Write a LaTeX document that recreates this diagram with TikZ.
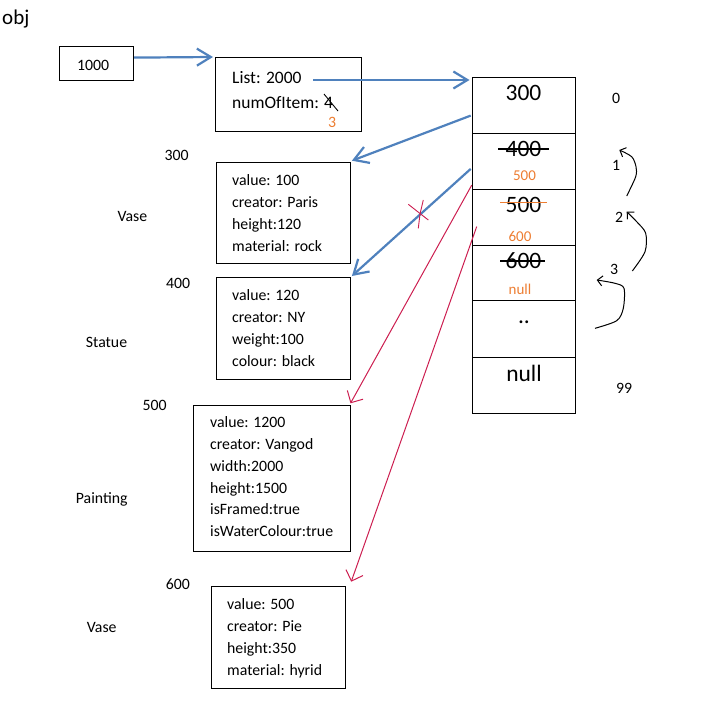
\documentclass[tikz,border=0pt]{standalone}
\usepackage{fontspec}
\setmainfont{Carlito}
\usetikzlibrary{arrows.meta}
\definecolor{linkblue}{RGB}{79,129,189}
\definecolor{inkred}{RGB}{204,30,80}
\definecolor{updorange}{RGB}{237,125,49}

\begin{document}
\begin{tikzpicture}[x=1pt,y=-1pt,
  objbox/.style={draw, line width=1.2pt, inner sep=0pt, anchor=north west},
  txt/.style={inner sep=0pt, anchor=base west, font=\fontsize{15.8}{18}\selectfont},
  listtxt/.style={txt, font=\fontsize{17.5}{21}\selectfont},
  big/.style={inner sep=0pt, anchor=base, font=\fontsize{23.5}{28}\selectfont},
  upd/.style={inner sep=0pt, anchor=base, text=updorange, font=\fontsize{15}{18}\selectfont},
  ref/.style={line width=2.2pt, draw=linkblue, -{Straight Barb[length=14pt,width=17pt]}},
  redref/.style={line width=1pt, draw=inkred, -{Straight Barb[length=9pt,width=18pt]}},
  strike/.style={line width=1.3pt},
  hand/.style={line width=1pt, -{Straight Barb[length=5pt,width=10pt]}},
]
\useasboundingbox (0,0) rectangle (702,701);

% title
\node[txt, font=\fontsize{21}{25}\selectfont] (title) at (2,25) {obj};

% reference variable and list object
\node[objbox, minimum width=74pt, minimum height=34pt] (ptr) at (59,46) {};
\node[txt] (ptrval) at ([shift={(18,24.7)}]ptr.north west) {1000};

\node[objbox, minimum width=146pt, minimum height=74pt] (listobj) at (215,57) {};
\node[listtxt] (list1) at ([shift={(17,26.3)}]listobj.north west) {List: 2000};
\node[listtxt] (list2) at ([shift={(17,51)}]listobj.north west) {numOfItem: 4};
\node[txt, text=updorange] (newcount) at (328,127.3) {3};
\draw[line width=0.9pt] (324,94) -- (338,111);

% array of references
\foreach \ytop/\h [count=\i from 0] in {77/56,133/56,189/56,245/55,300/57,357/56}
  \node[objbox, minimum width=103pt, minimum height=\h pt] (cell\i) at (472,\ytop) {};

\node[big] (v0) at (523.5,100.7) {300};
\node[big] (v1) at (523.5,156.7) {400};
\node[upd] (u1) at (524.5,180) {500};
\node[big] (v2) at (523.5,212.7) {500};
\node[upd] (u2) at (520,241.7) {600};
\node[big] (v3) at (523.5,268) {600};
\node[upd] (u3) at (520,294) {null};
\node[big] (v4) at (524,323) {..};
\node[big] (v5) at (524,381.7) {null};

\draw[strike] (498,149) -- (549,149);
\draw[strike, updorange] (500,202.7) -- (547,202.7);
\draw[strike] (500,261) -- (545,261);

% indices
\node[txt] (i0) at (612,103.3) {0};
\node[txt] (i1) at (612,170) {1};
\node[txt] (i2) at (615,222.3) {2};
\node[txt] (i3) at (610,274) {3};
\node[txt] (i99) at (616,393.3) {99};

% shifting arrows
\draw[hand] plot[smooth] coordinates {(626.7,196) (635.7,176.7) (636,166.7) (631.7,156.7) (619.3,150)};
\draw[hand] plot[smooth] coordinates {(632.3,271) (645,251.7) (645.7,233.3) (636.7,221.7) (626.7,211.7)};
\draw[hand] plot[smooth] coordinates {(595,328.3) (616.7,320.7) (623.3,308.3) (624,288.3) (615,283.3) (596.7,280)};

% left labels
\node[txt] (a300) at (164.3,160.7) {300};
\node[txt] (k1) at (117.3,221) {Vase};
\node[txt] (a400) at (166,288.3) {400};
\node[txt] (k2) at (85.7,347.7) {Statue};
\node[txt] (a500) at (142.3,410.7) {500};
\node[txt] (k3) at (75.7,503.3) {Painting};
\node[txt] (a600) at (165.7,589) {600};
\node[txt] (k4) at (86.7,632.7) {Vase};

% item objects
\node[objbox, minimum width=134pt, minimum height=101pt] (vase) at (216,162) {};
\foreach \txt [count=\i] in {value: 100,creator: Paris,height:120,material: rock}
  \node[txt] (vase-\i) at ([shift={(16,{23+22*(\i-1)})}]vase.north west) {\txt};

\node[objbox, minimum width=134pt, minimum height=102pt] (statue) at (216,277) {};
\foreach \txt [count=\i] in {value: 120,creator: NY,weight:100,colour: black}
  \node[txt] (statue-\i) at ([shift={(16,{23.7+22*(\i-1)})}]statue.north west) {\txt};

\node[objbox, minimum width=157pt, minimum height=146pt] (painting) at (193,405) {};
\foreach \txt [count=\i] in {value: 1200,creator: Vangod,width:2000,height:1500,isFramed:true,isWaterColour:true}
  \node[txt] (painting-\i) at ([shift={(17,{22.7+21.8*(\i-1)})}]painting.north west) {\txt};

\node[objbox, minimum width=134pt, minimum height=102pt] (vase2) at (211,586) {};
\foreach \txt [count=\i] in {value: 500,creator: Pie,height:350,material: hyrid}
  \node[txt] (vase2-\i) at ([shift={(16,{23+22*(\i-1)})}]vase2.north west) {\txt};

% references
\draw[ref] ([yshift=6pt]ptr.east) -- ([xshift=-2pt]listobj.north west);
\draw[ref] ([xshift=11.5pt,yshift=3.3pt]list1.base east) -- ([xshift=-2.5pt,yshift=-3pt]cell0.north west);
\draw[ref] ([xshift=-1.3pt,yshift=-10pt]cell0.west) -- ([xshift=0.7pt,yshift=1.3pt]vase.north east);
\draw[ref] ([xshift=-1.3pt,yshift=-7.3pt]cell1.west) -- ([xshift=0.7pt,yshift=1pt]statue.north east);
\draw[redref] ([xshift=-0.3pt,yshift=5pt]cell1.south west) -- ([xshift=-0.7pt,yshift=1.7pt]painting.north east);
\draw[redref] ([xshift=4.7pt,yshift=-9pt]cell2.west) -- ([xshift=5pt,yshift=4.3pt]vase2.north east);

% cancelled link
\draw[inkred, line width=0.9pt] (408.3,204.3) -- (428.3,220);
\draw[inkred, line width=0.9pt] (423.3,200) -- (420,214) -- (418.3,228.3);
\end{tikzpicture}
\end{document}
